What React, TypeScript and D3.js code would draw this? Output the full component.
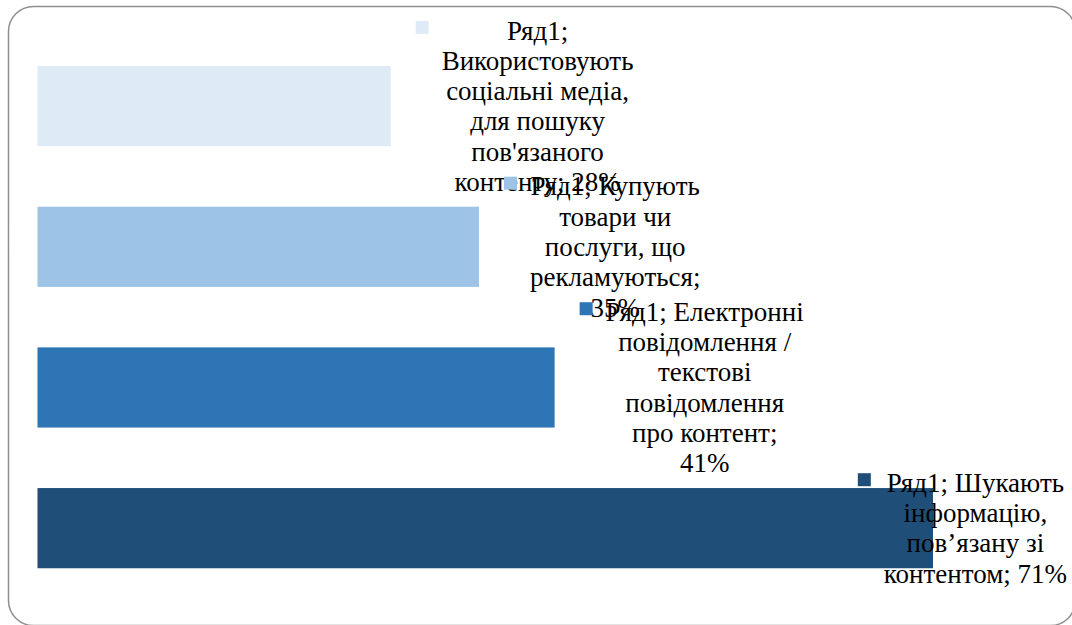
import React from "react";
import * as d3 from "d3";

const seriesName = "Ряд1";
const categories = [
  "Використовують соціальні медіа, для пошуку пов'язаного контенту",
  "Купують товари чи послуги, що рекламуються",
  "Електронні повідомлення / текстові повідомлення про контент",
  "Шукають інформацію, пов’язану зі контентом",
];
const values = [28, 35, 41, 71];
const colors = ["#DEEBF7", "#9DC3E6", "#2E75B6", "#1F4E79"];
// wrapped label lines as they appear ({s} = series, {v} = value)
const labelLines = [
  ["{s};", "Використовують", "соціальні медіа,", "для пошуку", "пов'язаного", "контенту; {v}%"],
  ["{s}; Купують", "товари чи", "послуги, що", "рекламуються;", "{v}%"],
  ["{s}; Електронні", "повідомлення /", "текстові", "повідомлення", "про контент;", "{v}%"],
  ["{s}; Шукають", "інформацію,", "пов’язану зі", "контентом; {v}%"],
];

const W = 1072;
const H = 625;
const FONT = "Liberation Serif";
const FONT_SIZE = 27;
const LH = 30.3;
const SQ = 13;
const MAX_RIGHT = 1067;

let ctx: CanvasRenderingContext2D | null = null;
function measure(s: string): number {
  if (!ctx) ctx = document.createElement("canvas").getContext("2d");
  if (!ctx) return s.length * FONT_SIZE * 0.5;
  ctx.font = `${FONT_SIZE}px "${FONT}"`;
  return ctx.measureText(s).width;
}

export default function App() {
  const x = d3.scaleLinear().domain([0, 71]).range([37.5, 933]);
  const y = d3
    .scaleBand<string>()
    .domain(categories)
    .range([35.75, 598.5])
    .paddingInner(0.43)
    .paddingOuter(0.215);

  const labels = categories.map((c, i) => {
    const lines = labelLines[i].map((l) =>
      l.replace("{v}", String(values[i])).replace("{s}", seriesName)
    );
    const n = lines.length;
    const cy = y(c)! + y.bandwidth() / 2;
    const maxW = Math.max(...lines.map(measure));
    let sqLeft = x(values[i]) + 25;
    let textLeft = sqLeft + SQ + 13;
    if (textLeft + maxW > MAX_RIGHT) {
      textLeft = MAX_RIGHT - maxW;
      sqLeft = textLeft - 13 - SQ;
    }
    const cx = textLeft + maxW / 2;
    const firstY = cy - ((n - 1) / 2) * LH;
    return { lines, n, cy, cx, sqLeft, firstY };
  });

  return (
    <svg
      width={W}
      height={H}
      style={{ position: "absolute", left: 0, top: 0, background: "#fff" }}
    >
      <rect
        x={8.5}
        y={6.5}
        width={1067}
        height={619}
        rx={25}
        ry={25}
        fill="#fff"
        stroke="#8f8f8f"
        strokeWidth={1.5}
      />
      <g>
        {categories.map((c, i) => (
          <rect
            key={c}
            x={x(0)}
            y={y(c)}
            width={x(values[i]) - x(0)}
            height={y.bandwidth()}
            fill={colors[i]}
          />
        ))}
      </g>
      <g>
        {labels.map((lb, i) => (
          <g key={i}>
            <rect
              x={lb.sqLeft}
              y={lb.firstY - 3 - SQ / 2}
              width={SQ}
              height={SQ}
              fill={colors[i]}
            />
            <text
              textAnchor="middle"
              fill="#000"
              style={{ fontFamily: FONT, fontSize: FONT_SIZE + "px" }}
            >
              {lb.lines.map((l, k) => (
                <tspan key={k} x={lb.cx} y={lb.firstY + k * LH + FONT_SIZE * 0.34}>
                  {l}
                </tspan>
              ))}
            </text>
          </g>
        ))}
      </g>
    </svg>
  );
}
